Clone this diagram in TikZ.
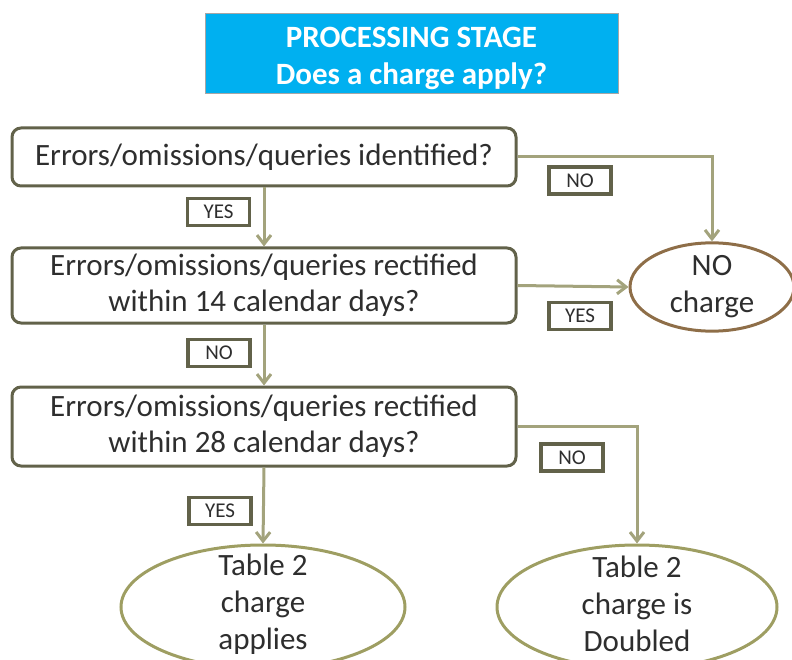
\documentclass[tikz,border=0pt]{standalone}
\usepackage{fontspec}
\setmainfont{Carlito}
\usetikzlibrary{shapes.geometric,arrows.meta}
\definecolor{titlefill}{HTML}{00B0F0}
\definecolor{boxline}{HTML}{62624A}
\definecolor{arrowline}{HTML}{A3A37C}
\definecolor{ellline}{HTML}{9E9E62}
\definecolor{brownline}{HTML}{8E6E48}
\definecolor{txt}{HTML}{2E2E2E}
\tikzset{
  qbox/.style={draw=boxline, line width=3pt, rounded corners=9pt, minimum width=504pt, align=center, text=txt, font=\fontsize{31}{36}\selectfont, inner sep=0pt},
  endell/.style={ellipse, draw=ellline, line width=3pt, align=center, text=txt, font=\fontsize{31}{37}\selectfont, inner sep=0pt},
  lbl/.style={draw=boxline, line width=3.2pt, fill=white, minimum width=62pt, minimum height=27pt, inner sep=0pt, text=txt, font=\fontsize{21}{22}\selectfont},
  conn/.style={draw=arrowline, line width=3pt, -{Straight Barb[length=9pt,width=14pt,line width=3pt]}},
}
\begin{document}
\begin{tikzpicture}[x={(1pt,0)}, y={(0,-1pt)}]
\useasboundingbox (0,0) rectangle (792,660);
\begin{scope}
\clip (0,0) rectangle (792,660);
\node[fill=titlefill, draw=gray!70, line width=1pt, minimum width=413pt, minimum height=80pt, inner sep=0pt, text=white] (title) at (411.5,54) {};
\node[align=center, text=white, font=\fontsize{31}{37}\selectfont\bfseries, inner sep=0pt] (titletext) at (411.5,58) {PROCESSING STAGE\\Does a charge apply?};

\node[qbox, minimum height=58pt] (b1) at (264,157) {Errors/omissions/queries identified?};
\node[qbox, minimum height=75pt] (b2) at (264,285.5) {\raisebox{-3pt}{\parbox{480pt}{\centering Errors/omissions/queries rectified\\within 14 calendar days?}}};
\node[qbox, minimum height=79pt] (b3) at (264,426.5) {\raisebox{-2pt}{\parbox{480pt}{\centering Errors/omissions/queries rectified\\within 28 calendar days?}}};

\node[endell, draw=brownline, minimum width=164pt, minimum height=88pt] (nochg) at (712,287) {NO\\charge};
\node[endell, minimum width=284pt, minimum height=124pt] (e1) at (263,607) {};
\node[endell, minimum width=280pt, minimum height=124pt] (e2) at (637,607) {};
\node[align=center, text=txt, font=\fontsize{31}{37}\selectfont, inner sep=0pt] (e1t) at (263,604) {Table 2\\charge\\applies};
\node[align=center, text=txt, font=\fontsize{31}{37}\selectfont, inner sep=0pt] (e2t) at (637,604) {Table 2\\charge is\\Doubled};

\draw[conn] (b1.south) -- (b2.north);
\draw[conn] (b2.south) -- (b3.north);
\draw[conn] (b3.south) -- (e1.north);
\draw[conn] (b1.east) -| (nochg.north);
\draw[conn] (b2.east) -- (nochg.west);
\draw[conn] (b3.east) -| (e2.north);

\node[lbl] (l1) at (218.5,212) {YES};
\node[lbl] (l2) at (580,180.5) {NO};
\node[lbl] (l3) at (580,316) {YES};
\node[lbl] (l4) at (219,353) {NO};
\node[lbl] (l5) at (572,457.5) {NO};
\node[lbl] (l6) at (220,511) {YES};
\end{scope}
\end{tikzpicture}
\end{document}
